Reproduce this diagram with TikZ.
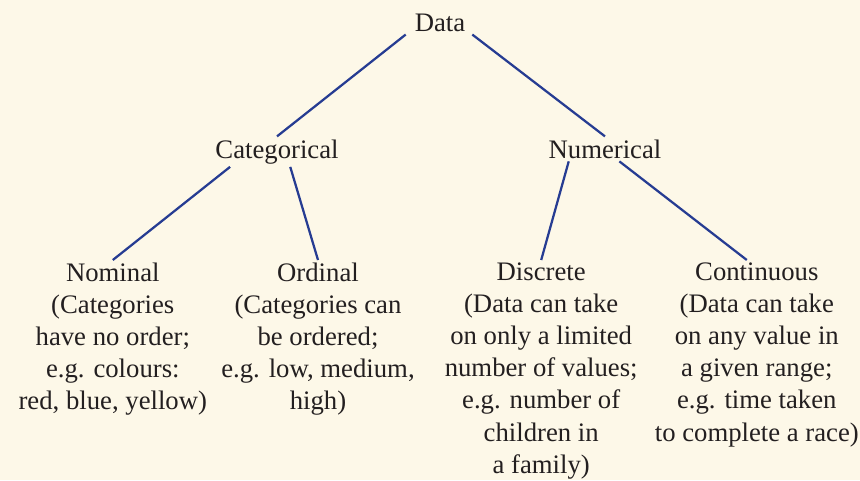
\documentclass[tikz,border=0pt]{standalone}
\usepackage{fontspec}
\setmainfont{Liberation Serif}
\usetikzlibrary{positioning,calc}
\definecolor{bgcream}{HTML}{FDF8E8}
\definecolor{linkblue}{HTML}{263C92}
\definecolor{inkgrey}{HTML}{231F20}
\begin{document}
\begin{tikzpicture}[
    label/.style={align=center, inner sep=2pt, text=inkgrey, font=\fontsize{19}{22.8}\selectfont},
    leaf/.style={label, anchor=north},
    link/.style={draw=linkblue, line width=1.6pt}
]
\fill[bgcream] (0,0) rectangle (21.5,-12);
\useasboundingbox (0,0) rectangle (21.5,-12);
\node[label, anchor=base] (data) at (11,-0.78) {Data};
\node[label, anchor=base] (cat) at (6.925,-3.95) {Categorical};
\node[label, anchor=base] (num) at (15.125,-3.95) {Numerical};
\node[leaf] (nom) at (2.82,-6.5) {Nominal\\(Categories\\have no order;\\e.g. colours:\\red, blue, yellow)};
\node[leaf] (ord) at (7.95,-6.5) {Ordinal\\(Categories can\\be ordered;\\e.g. low, medium,\\high)};
\node[leaf] (disc) at (13.53,-6.5) {Discrete\\(Data can take\\on only a limited\\number of values;\\e.g. number of\\children in\\a family)};
\node[leaf] (cont) at (18.92,-6.5) {Continuous\\(Data can take\\on any value in\\a given range;\\e.g. time taken\\to complete a race)};

\draw[link] ($(data.south west)+(-0.15,0)$) -- (cat.north);
\draw[link] ($(data.south east)+(0.1,0)$) -- (num.north);
\draw[link] (cat.198) -- (nom.north);
\draw[link] (cat.311) -- (ord.north);
\draw[link] (num.199) -- (disc.north);
\draw[link] (num.319) -- ($(cont.north)+(-0.25,0)$);
\end{tikzpicture}
\end{document}
